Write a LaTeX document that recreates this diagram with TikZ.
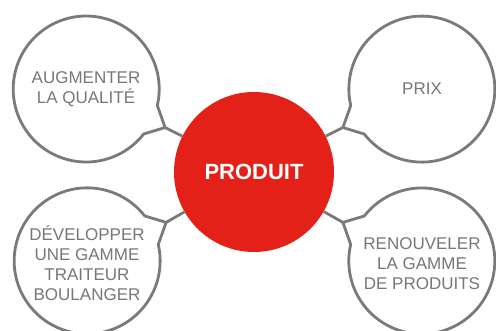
\documentclass[tikz,border=0pt]{standalone}
\usepackage{fontspec}
\setmainfont{Liberation Sans}
\usepackage{tikz}
\usetikzlibrary{calc}

\definecolor{produitred}{HTML}{E32119}
\definecolor{bubblegray}{HTML}{7A7A7A}
\definecolor{textgray}{HTML}{777777}

\tikzset{
    bubble/.style={circle, minimum size=146pt, inner sep=0pt, align=center,
        text=textgray, font=\fontsize{17}{20}\selectfont},
    bubble line/.style={draw=bubblegray, line width=2.8pt, fill=white},
    link/.style={draw=bubblegray, line width=2.8pt},
}

\begin{document}
\begin{tikzpicture}[x=1pt, y=1pt]
        \useasboundingbox (0, 0) rectangle (496, 331);
        \node [circle, fill=produitred, minimum size=160pt, inner sep=0pt,
            text=white, font=\fontsize{22}{26}\selectfont\bfseries] (produit) at (254, 159) {PRODUIT};
        % top left
        \node [bubble] (qualite) at (86, 242) {};
        \coordinate (qualitetip) at ($(qualite.center)+(-26:88)$);
        \path [bubble line] (qualite.-13) arc [start angle=-13, end angle=322, radius=73pt]
            -- (qualitetip) -- cycle;
        \node [bubble] at (qualite) {AUGMENTER\\LA QUALITÉ};
        \draw [link] (qualitetip) -- (produit);
        % top right
        \node [bubble] (prix) at (422, 242) {};
        \coordinate (prixtip) at ($(prix.center)+(206:88)$);
        \path [bubble line] (prix.218) arc [start angle=218, end angle=553, radius=73pt]
            -- (prixtip) -- cycle;
        \node [bubble] at (prix) {PRIX};
        \draw [link] (prixtip) -- (produit);
        % bottom left
        \node [bubble] (traiteur) at (87, 70) {};
        \coordinate (traiteurtip) at ($(traiteur.center)+(26:88)$);
        \path [bubble line] (traiteur.38) arc [start angle=38, end angle=373, radius=73pt]
            -- (traiteurtip) -- cycle;
        \node [bubble] at ($(traiteur)+(0,-2)$) {DÉVELOPPER\\UNE GAMME\\TRAITEUR\\BOULANGER};
        \draw [link] (traiteurtip) -- (produit);
        % bottom right
        \node [bubble] (gamme) at (422, 70) {};
        \coordinate (gammetip) at ($(gamme.center)+(154:88)$);
        \path [bubble line] (gamme.167) arc [start angle=167, end angle=502, radius=73pt]
            -- (gammetip) -- cycle;
        \node [bubble] at ($(gamme)+(0,-3)$) {RENOUVELER\\LA GAMME\\DE PRODUITS};
        \draw [link] (gammetip) -- (produit);
    \end{tikzpicture}
\end{document}
